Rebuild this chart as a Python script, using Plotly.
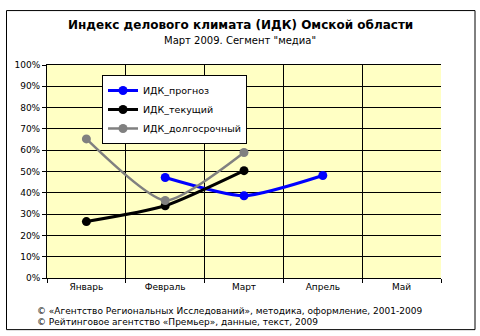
import plotly.graph_objects as go

months = ["Январь", "Февраль", "Март", "Апрель", "Май"]
prognoz_x = ["Февраль", "Март", "Апрель"]
prognoz_y = [47.2, 38.6, 48.1]
tekush_x = ["Январь", "Февраль", "Март"]
tekush_y = [26.5, 33.9, 50.4]
dolgo_x = ["Январь", "Февраль", "Март"]
dolgo_y = [65.3, 36.4, 58.9]
y_ticks = list(range(0, 101, 10))

W, H = 480, 336
L, R, T, B = 47, 441, 65, 278.3

def px(x):
    return (x - L) / (R - L)

def py(y):
    return (B - y) / (B - T)

FONT = "DejaVu Sans"

fig = go.Figure()
fig.add_trace(go.Scatter(x=months, y=[None] * len(months), showlegend=False, hoverinfo="skip"))
fig.add_trace(go.Scatter(x=prognoz_x, y=prognoz_y, name="ИДК_прогноз", mode="lines+markers",
                         line=dict(color="#0000FF", width=3, shape="spline", smoothing=0.6),
                         marker=dict(size=9, color="#0000FF")))
fig.add_trace(go.Scatter(x=tekush_x, y=tekush_y, name="ИДК_текущий", mode="lines+markers",
                         line=dict(color="#000000", width=3, shape="spline", smoothing=0.6),
                         marker=dict(size=9, color="#000000")))
fig.add_trace(go.Scatter(x=dolgo_x, y=dolgo_y, name="ИДК_долгосрочный", mode="lines+markers",
                         line=dict(color="#808080", width=2.5, shape="spline", smoothing=0.6),
                         marker=dict(size=9, color="#808080")))

fig.update_layout(
    width=W, height=H,
    margin=dict(l=L, r=W - R, t=T, b=H - B),
    paper_bgcolor="white",
    plot_bgcolor="#FFFFC4",
    font=dict(family=FONT, size=9, color="black"),
    showlegend=True,
    legend=dict(x=px(102), y=py(75), xanchor="left", yanchor="top",
                bgcolor="white", bordercolor="black", borderwidth=1,
                font=dict(size=9.5, family=FONT), tracegroupgap=0,
                itemwidth=30),
    xaxis=dict(type="category", categoryorder="array", categoryarray=months,
               range=[-0.5, 4.5], tickson="boundaries", showgrid=True,
               gridcolor="black", gridwidth=1, showline=True, linecolor="black",
               mirror=True, ticks="outside", ticklen=4, tickcolor="black",
               tickfont=dict(size=9), fixedrange=True),
    yaxis=dict(range=[0, 100], tickvals=y_ticks, ticktext=[f"{v}%" for v in y_ticks],
               showgrid=True, gridcolor="black", gridwidth=1, showline=True,
               linecolor="black", ticks="outside", ticklen=4, tickcolor="black",
               tickfont=dict(size=9), zeroline=False, fixedrange=True),
    shapes=[dict(type="rect", xref="paper", yref="paper",
                 x0=px(6.5), x1=px(475), y0=py(330), y1=py(10.5),
                 line=dict(color="black", width=1), fillcolor="rgba(0,0,0,0)")],
    annotations=[
        dict(text="<b>Индекс делового климата (ИДК) Омской области</b>", xref="paper", yref="paper",
             x=px(240), y=py(25), showarrow=False, font=dict(size=12, family=FONT),
             xanchor="center", yanchor="middle"),
        dict(text="Март 2009. Сегмент \"медиа\"", xref="paper", yref="paper",
             x=px(240), y=py(40), showarrow=False, font=dict(size=10, family=FONT),
             xanchor="center", yanchor="middle"),
        dict(text="© «Агентство Региональных Исследований», методика, оформление, 2001-2009",
             xref="paper", yref="paper", x=px(35), y=py(311), showarrow=False,
             font=dict(size=9, family=FONT), xanchor="left", yanchor="middle"),
        dict(text="© Рейтинговое агентство «Премьер», данные, текст, 2009",
             xref="paper", yref="paper", x=px(35), y=py(322.5), showarrow=False,
             font=dict(size=9, family=FONT), xanchor="left", yanchor="middle"),
    ],
)

fig.write_html("out.html")
